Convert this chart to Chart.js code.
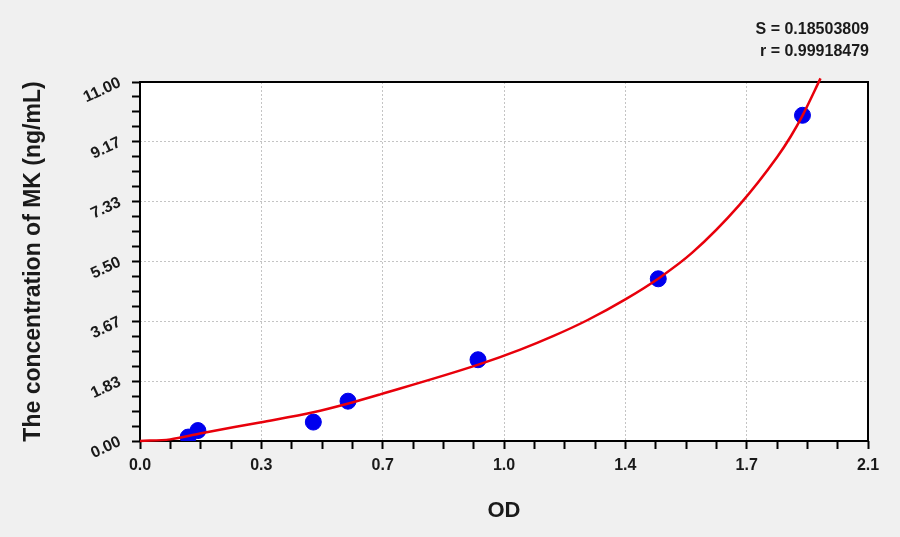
<!DOCTYPE html>
<html>
<head>
<meta charset="utf-8">
<script src="https://cdn.jsdelivr.net/npm/chart.js@4.4.1/dist/chart.umd.min.js"></script>
<style>
  html, body { margin: 0; padding: 0; background: #f0f0f0; }
  #wrap { width: 900px; height: 537px; }
</style>
</head>
<body>
<div id="wrap"><canvas id="c" width="900" height="537"></canvas></div>
<script>
// Measured standards (OD vs concentration)
const odValues   = [0.139, 0.167, 0.500, 0.600, 0.975, 1.495, 1.911];
const concValues = [0.12, 0.32, 0.58, 1.22, 2.49, 4.97, 9.98];

// Fitted curve
const curveOD   = [0, 0.087, 0.173, 0.346, 0.500, 0.601, 0.693, 0.976, 1.097, 1.193, 1.290, 1.400, 1.501, 1.593, 1.728, 1.838, 1.877, 1.911, 1.963];
const curveConc = [0, 0.05, 0.23, 0.57, 0.88, 1.15, 1.43, 2.34, 2.80, 3.22, 3.70, 4.34, 5.02, 5.77, 7.22, 8.70, 9.33, 9.97, 11.11];

// Axis ticks
const xTickLabels = ['0.0', '0.3', '0.7', '1.0', '1.4', '1.7', '2.1'];
const yTickLabels = ['0.00', '1.83', '3.67', '5.50', '7.33', '9.17', '11.00'];
const xMax = 2.1, yMax = 11, minorPerMajor = 4;

const statLines = ['S = 0.18503809', 'r = 0.99918479'];
const xTitle = 'OD';
const yTitle = 'The concentration of MK (ng/mL)';

const FONT = "'Liberation Sans', Arial, sans-serif";

function makeTicks(max, nMajor) {
  const n = nMajor * minorPerMajor;
  const arr = [];
  for (let i = 0; i <= n; i++) arr.push({ value: max * i / n });
  return arr;
}

const framePlugin = {
  id: 'frame',
  beforeDraw(chart) {
    const { ctx, chartArea: a } = chart;
    ctx.save();
    ctx.fillStyle = '#f0f0f0';
    ctx.fillRect(0, 0, chart.width, chart.height);
    ctx.fillStyle = '#ffffff';
    ctx.fillRect(a.left, a.top, a.right - a.left, a.bottom - a.top);
    ctx.restore();
  },
  beforeDatasetsDraw(chart) {
    const { ctx, chartArea: a } = chart;
    ctx.save();
    ctx.strokeStyle = '#000000';
    ctx.lineWidth = 2;
    ctx.strokeRect(a.left, a.top, a.right - a.left, a.bottom - a.top);
    ctx.restore();
  },
  afterDraw(chart) {
    const { ctx, chartArea: a } = chart;
    ctx.save();
    ctx.fillStyle = '#1a1a1a';
    ctx.font = 'bold 16px ' + FONT;
    ctx.textAlign = 'right';
    ctx.textBaseline = 'middle';
    ctx.fillText(statLines[0], a.right + 1, 30);
    ctx.fillText(statLines[1], a.right + 1, 52);
    ctx.restore();
  }
};

new Chart(document.getElementById('c'), {
  type: 'scatter',
  data: {
    datasets: [
      {
        label: 'fit',
        data: curveOD.map((x, i) => ({ x, y: curveConc[i] })),
        showLine: true,
        borderColor: '#e8000b',
        borderWidth: 2.5,
        pointRadius: 0,
        cubicInterpolationMode: 'monotone',
        clip: false
      },
      {
        label: 'standards',
        data: odValues.map((x, i) => ({ x, y: concValues[i] })),
        backgroundColor: '#0000ee',
        borderColor: '#0000ee',
        pointRadius: 8,
        pointHoverRadius: 8
      }
    ]
  },
  options: {
    responsive: false,
    animation: false,
    devicePixelRatio: 1,
    layout: { padding: { top: 82, right: 32, left: 0, bottom: 0 } },
    plugins: { legend: { display: false }, tooltip: { enabled: false } },
    scales: {
      x: {
        type: 'linear',
        min: 0, max: xMax,
        afterBuildTicks(scale) { scale.ticks = makeTicks(xMax, xTickLabels.length - 1); },
        afterFit(scale) { scale.height = 96; },
        border: { display: false, dash: [2, 2] },
        grid: {
          color: (c) => (c.index % minorPerMajor === 0 ? '#c4c4c4' : 'rgba(0,0,0,0)'),
          lineWidth: 1,
          tickLength: 8,
          tickColor: '#000000',
          tickWidth: 2
        },
        ticks: {
          autoSkip: false,
          maxRotation: 0, minRotation: 0,
          padding: 7,
          color: '#1a1a1a',
          font: { family: FONT, size: 16, weight: 'bold' },
          callback: (v, i) => (i % minorPerMajor === 0 ? xTickLabels[i / minorPerMajor] : '')
        },
        title: {
          display: true,
          text: xTitle,
          color: '#1a1a1a',
          font: { family: FONT, size: 22, weight: 'bold' },
          padding: { top: 0, bottom: 13 }
        }
      },
      y: {
        type: 'linear',
        min: 0, max: yMax,
        afterBuildTicks(scale) { scale.ticks = makeTicks(yMax, yTickLabels.length - 1); },
        afterFit(scale) { scale.width = 140; },
        border: { display: false, dash: [2, 2] },
        grid: {
          color: (c) => (c.index % minorPerMajor === 0 ? '#c4c4c4' : 'rgba(0,0,0,0)'),
          lineWidth: 1,
          tickLength: 8,
          tickColor: '#000000',
          tickWidth: 2
        },
        ticks: {
          autoSkip: false,
          minRotation: 25, maxRotation: 25,
          padding: 12,
          color: '#1a1a1a',
          font: { family: FONT, size: 16, weight: 'bold' },
          callback: (v, i) => (i % minorPerMajor === 0 ? yTickLabels[i / minorPerMajor] : '')
        },
        title: {
          display: true,
          text: yTitle,
          color: '#1a1a1a',
          font: { family: FONT, size: 23, weight: 'bold' },
          padding: { top: 20, bottom: 0 }
        }
      }
    }
  },
  plugins: [framePlugin]
});
</script>
</body>
</html>
